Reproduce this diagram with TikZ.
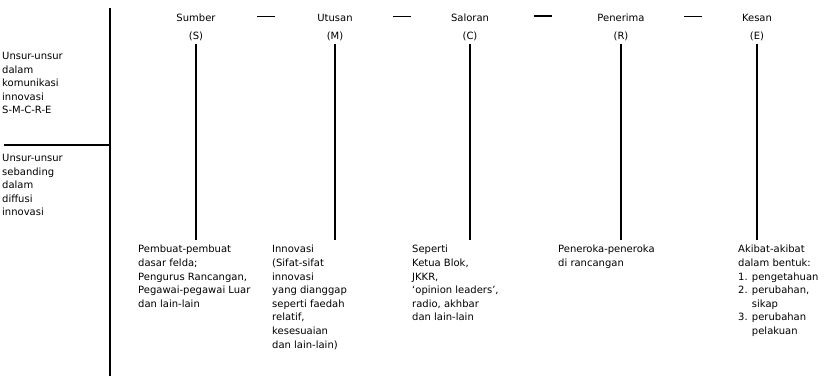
\documentclass[tikz,border=0pt]{standalone}
\usepackage{fontspec}
\setmainfont{DejaVu Sans}
\usepackage{tikz}
\usetikzlibrary{positioning}
\usetikzlibrary{calc}
\tikzset{txt/.style = {inner sep = 0, font = \fontsize{10}{13.6}\selectfont}}
\tikzset{head/.style = {txt, anchor = base}}
\tikzset{body/.style = {txt, anchor = north west, align = left}}
\tikzset{rule/.style = {line width = 1.6}}

\begin{document}
\begin{tikzpicture}[x = 1pt, y = -1pt]
      \useasboundingbox (0, 0) rectangle (836, 376);
      \node [head] (sumber) at (196, 21) {Sumber};
      \node [head] (utusan) at (335, 21) {Utusan};
      \node [head] (saloran) at (470, 21) {Saloran};
      \node [head] (penerima) at (621, 21) {Penerima};
      \node [head] (kesan) at (757, 21) {Kesan};
      \node [head] (s) at (196, 39) {(S)};
      \node [head] (m) at (335, 39) {(M)};
      \node [head] (c) at (470, 39) {(C)};
      \node [head] (r) at (621, 39) {(R)};
      \node [head] (e) at (757, 39) {(E)};
      \foreach \a/\b in {sumber/utusan, utusan/saloran, saloran/penerima, penerima/kesan}
        \draw [rule] ($(\a.east)!0.5!(\b.west)$) +(-9, -1) -- +(9, -1);
      \node [body] (side1) at (2, 52) {Unsur-unsur\\dalam\\komunikasi\\innovasi\\S-M-C-R-E};
      \node [body] (side2) at (2, 154) {Unsur-unsur\\sebanding\\dalam\\diffusi\\innovasi};
      \node [body] (sbody) at (138, 245) {Pembuat-pembuat\\dasar felda;\\Pengurus Rancangan,\\Pegawai-pegawai Luar\\dan lain-lain};
      \node [body] (mbody) at (272, 245) {Innovasi\\(Sifat-sifat\\innovasi\\yang dianggap\\seperti faedah\\relatif,\\kesesuaian\\dan lain-lain)};
      \node [body] (cbody) at (412, 245) {Seperti\\Ketua Blok,\\JKKR,\\`opinion leaders',\\radio, akhbar\\dan lain-lain};
      \node [body] (rbody) at (558, 245) {Peneroka-peneroka\\di rancangan};
      \node [body] (ebody) at (738, 245) {Akibat-akibat\\dalam bentuk:\\1. pengetahuan\\2. perubahan,\\\phantom{2. }sikap\\3. perubahan\\\phantom{3. }pelakuan};
      \foreach \h/\t in {s/sbody, m/mbody, c/cbody, r/rbody, e/ebody}
        \draw [rule] ([yshift = -3]\h.south) -- ([yshift = 5]\h.south |- \t.north);
      \coordinate (top) at (110, 8);
      \coordinate (bottom) at (110, 376);
      \coordinate (split) at (4, 145);
      \draw [rule] (top) -- (bottom);
      \draw [rule] (split) -- (split -| top);
    \end{tikzpicture}
\end{document}
